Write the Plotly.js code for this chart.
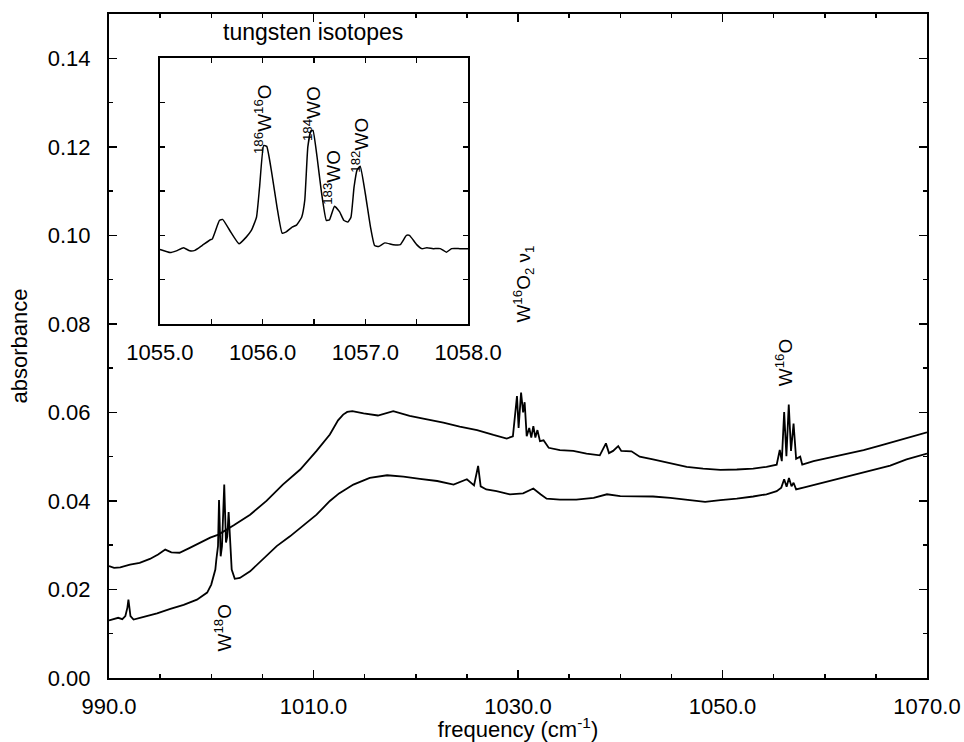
<!DOCTYPE html>
<html>
<head>
<meta charset="utf-8">
<script src="https://cdn.plot.ly/plotly-3.0.1.min.js"></script>
<style>html,body{margin:0;padding:0;background:#fff;}#chart{width:964px;height:742px;}</style>
</head>
<body>
<div id="chart"></div>
<script>
// Upper spectrum
const upperX = [990.0,990.5,991.1,992.05,993.0,994.0,994.8,995.5,996.1,996.9,997.9,998.9,999.9,1000.7,1001.3,1002.2,1003.8,1005.4,1007.0,1008.7,1010.3,1011.6,1012.4,1012.9,1013.3,1013.8,1014.9,1016.3,1017.8,1019.4,1021.1,1022.7,1024.3,1026.0,1027.6,1028.9,1029.5,1029.9,1030.06,1030.3,1030.5,1030.65,1030.85,1031.1,1031.3,1031.5,1031.7,1031.9,1032.15,1032.5,1033.0,1034.1,1035.4,1036.7,1038.0,1038.6,1038.9,1039.3,1039.8,1040.1,1041.1,1041.9,1043.2,1044.9,1046.5,1048.1,1049.8,1051.4,1053.0,1054.3,1055.3,1055.6,1055.8,1056.03,1056.25,1056.48,1056.7,1056.95,1057.2,1057.6,1057.8,1058.9,1060.5,1062.1,1063.8,1065.4,1067.0,1068.7,1070.0];
const upperY = [0.0253,0.0249,0.0250,0.0256,0.0260,0.0269,0.0279,0.0290,0.0284,0.0283,0.0294,0.0306,0.0317,0.0324,0.0332,0.0345,0.0369,0.0400,0.0437,0.0471,0.0513,0.0550,0.0582,0.0595,0.0601,0.0603,0.0598,0.0593,0.0603,0.0592,0.0584,0.0577,0.0568,0.0560,0.0549,0.0541,0.0546,0.0637,0.0565,0.0645,0.0600,0.0623,0.0546,0.0565,0.0543,0.0569,0.0543,0.0560,0.0535,0.0537,0.0520,0.0515,0.0513,0.0507,0.0503,0.0530,0.0508,0.0513,0.0524,0.0513,0.0512,0.0500,0.0494,0.0486,0.0477,0.0473,0.0470,0.0471,0.0473,0.0477,0.0482,0.0515,0.0490,0.0601,0.0501,0.0618,0.0513,0.0575,0.0495,0.0500,0.0482,0.0490,0.0498,0.0507,0.0515,0.0525,0.0535,0.0546,0.0555];

// Lower spectrum
const lowerX = [990.0,990.5,990.9,991.3,991.6,991.8,991.9,992.1,992.4,993.4,994.7,996.0,997.3,998.6,999.6,1000.0,1000.4,1000.5,1000.66,1000.76,1000.92,1001.05,1001.27,1001.44,1001.57,1001.7,1001.83,1002.0,1002.3,1002.8,1003.8,1005.1,1006.4,1007.7,1009.0,1010.3,1011.6,1012.5,1013.9,1015.5,1017.2,1018.8,1020.4,1022.1,1023.7,1025.0,1025.7,1026.1,1026.35,1026.9,1027.9,1029.2,1030.5,1031.5,1032.2,1032.8,1034.1,1035.7,1037.4,1038.7,1040.0,1041.6,1043.2,1044.9,1046.5,1048.3,1049.8,1051.4,1053.0,1054.3,1055.3,1055.75,1056.03,1056.27,1056.5,1056.75,1056.95,1057.2,1058.2,1059.9,1061.5,1063.1,1064.7,1066.4,1068.0,1070.0];
const lowerY = [0.0130,0.0134,0.0136,0.0133,0.0140,0.0159,0.0177,0.0140,0.0132,0.0138,0.0146,0.0156,0.0165,0.0177,0.0193,0.0211,0.0245,0.0268,0.0298,0.0402,0.0275,0.0298,0.0437,0.0306,0.0320,0.0375,0.0313,0.0245,0.0224,0.0226,0.0241,0.0269,0.0298,0.0320,0.0345,0.0369,0.0400,0.0417,0.0437,0.0452,0.0458,0.0455,0.0450,0.0445,0.0437,0.0449,0.0435,0.0479,0.0433,0.0426,0.0422,0.0415,0.0417,0.0428,0.0415,0.0405,0.0403,0.0403,0.0407,0.0415,0.0411,0.0411,0.0410,0.0407,0.0402,0.0398,0.0402,0.0405,0.0410,0.0415,0.0422,0.0430,0.0449,0.0432,0.0452,0.0433,0.0441,0.0426,0.0432,0.0442,0.0452,0.0460,0.0471,0.0480,0.0494,0.0507];

// Inset: tungsten isotopes
const insetX = [1055.0,1055.10,1055.16,1055.23,1055.29,1055.34,1055.41,1055.49,1055.51,1055.58,1055.61,1055.68,1055.77,1055.84,1055.89,1055.94,1055.97,1056.01,1056.04,1056.09,1056.14,1056.19,1056.23,1056.29,1056.33,1056.38,1056.41,1056.44,1056.47,1056.49,1056.53,1056.57,1056.62,1056.65,1056.70,1056.75,1056.79,1056.83,1056.86,1056.89,1056.92,1056.95,1057.00,1057.05,1057.09,1057.13,1057.19,1057.27,1057.34,1057.40,1057.43,1057.50,1057.55,1057.60,1057.66,1057.73,1057.79,1057.84,1057.92,1058.0];
const insetY = [0.0968,0.0961,0.0965,0.0972,0.0965,0.0966,0.0977,0.0990,0.0992,0.1034,0.1036,0.1011,0.0981,0.0996,0.1011,0.1041,0.1109,0.1203,0.1201,0.1139,0.1064,0.1005,0.1008,0.1019,0.1023,0.1041,0.1079,0.1200,0.1236,0.1237,0.1177,0.1102,0.1034,0.1035,0.1066,0.1053,0.1034,0.1030,0.1041,0.1109,0.1148,0.1156,0.1094,0.1019,0.0977,0.0975,0.0983,0.0979,0.0979,0.1000,0.1000,0.0979,0.0970,0.0972,0.0970,0.0970,0.0962,0.0970,0.0970,0.0970];

// Tick labels
const xTickVals = [990, 1010, 1030, 1050, 1070];
const xTickText = ['990.0', '1010.0', '1030.0', '1050.0', '1070.0'];
const yTickVals = [0, 0.02, 0.04, 0.06, 0.08, 0.10, 0.12, 0.14];
const yTickText = ['0.00', '0.02', '0.04', '0.06', '0.08', '0.10', '0.12', '0.14'];
const insetTickVals = [1055, 1056, 1057, 1058];
const insetTickText = ['1055.0', '1056.0', '1057.0', '1058.0'];
const insetYTickVals = [0.08, 0.09, 0.10, 0.11, 0.12, 0.13, 0.14];

// Peak labels
const mainLabels = [
  {text: 'W<sup>18</sup>O', x: 1001.15, y: 0.0114},
  {text: 'W<sup>16</sup>O', x: 1056.1, y: 0.0713},
  {text: 'W<sup>16</sup>O<sub>2</sub> ν<sub>1</sub>', x: 1030.5, y: 0.0889}
];
const insetLabels = [
  {text: '<sup>186</sup>W<sup>16</sup>O', x: 1056.01, y: 0.1262},
  {text: '<sup>184</sup>WO', x: 1056.48, y: 0.1276},
  {text: '<sup>183</sup>WO', x: 1056.68, y: 0.1131},
  {text: '<sup>182</sup>WO', x: 1056.95, y: 0.1203}
];

const FONT = 'Liberation Sans, Arial, Helvetica, sans-serif';

const traces = [
  {x: upperX, y: upperY, type: 'scatter', mode: 'lines', line: {color: '#000', width: 1.8}, xaxis: 'x', yaxis: 'y', showlegend: false},
  {x: lowerX, y: lowerY, type: 'scatter', mode: 'lines', line: {color: '#000', width: 1.8}, xaxis: 'x', yaxis: 'y', showlegend: false},
  {x: insetX, y: insetY, type: 'scatter', mode: 'lines', line: {color: '#000', width: 1.5, shape: 'spline', smoothing: 0.4}, xaxis: 'x2', yaxis: 'y2', showlegend: false}
];

const annotations = [];
mainLabels.forEach(l => annotations.push({
  text: l.text, x: l.x, y: l.y, xref: 'x', yref: 'y', showarrow: false,
  textangle: -90, xanchor: 'center', yanchor: 'middle', font: {family: FONT, size: 19, color: '#000'}
}));
insetLabels.forEach(l => annotations.push({
  text: l.text, x: l.x, y: l.y, xref: 'x2', yref: 'y2', showarrow: false,
  textangle: -90, xanchor: 'center', yanchor: 'middle', font: {family: FONT, size: 19, color: '#000'}
}));
annotations.push({
  text: 'tungsten isotopes', x: 1009.95, y: 0.1459, xref: 'x', yref: 'y', showarrow: false,
  xanchor: 'center', yanchor: 'middle', font: {family: FONT, size: 23, color: '#000'}
});

const layout = {
  width: 964, height: 742,
  margin: {l: 109, r: 37, t: 14, b: 63.5, pad: 0},
  paper_bgcolor: '#fff', plot_bgcolor: '#fff',
  font: {family: FONT, size: 22, color: '#000'},
  showlegend: false,
  xaxis: {
    range: [990, 1070], tickvals: xTickVals, ticktext: xTickText,
    ticks: 'inside', ticklen: 8, tickwidth: 1.5, tickcolor: '#000',
    minor: {dtick: 5, tick0: 990, ticks: 'inside', ticklen: 4, tickwidth: 1.5, tickcolor: '#000'},
    showline: true, linewidth: 2, linecolor: '#000', mirror: 'ticks',
    showgrid: false, zeroline: false, ticklabelstandoff: 8,
    title: {text: 'frequency (cm<sup>-1</sup>)', font: {family: FONT, size: 22}, standoff: 2}
  },
  yaxis: {
    range: [0, 0.15], tickvals: yTickVals, ticktext: yTickText,
    ticks: 'inside', ticklen: 8, tickwidth: 1.5, tickcolor: '#000',
    minor: {dtick: 0.01, tick0: 0, ticks: 'inside', ticklen: 4, tickwidth: 1.5, tickcolor: '#000'},
    showline: true, linewidth: 2, linecolor: '#000', mirror: 'ticks',
    showgrid: false, zeroline: false, ticklabelstandoff: 12,
    title: {text: 'absorbance', font: {family: FONT, size: 22}, standoff: 14}
  },
  xaxis2: {
    domain: [0.0623, 0.4389], anchor: 'y2', range: [1055, 1058],
    tickvals: insetTickVals, ticktext: insetTickText,
    ticks: 'inside', ticklen: 5, tickwidth: 1.5, tickcolor: '#000',
    minor: {dtick: 0.5, tick0: 1055, ticks: 'inside', ticklen: 5, tickwidth: 1.5, tickcolor: '#000'},
    showline: true, linewidth: 2, linecolor: '#000', mirror: 'ticks',
    showgrid: false, zeroline: false, ticklabelstandoff: 8
  },
  yaxis2: {
    domain: [0.5333, 0.9333], anchor: 'x2', range: [0.08, 0.14],
    tickvals: insetYTickVals, showticklabels: false,
    ticks: 'inside', ticklen: 5, tickwidth: 1.5, tickcolor: '#000',
    showline: true, linewidth: 2, linecolor: '#000', mirror: 'ticks',
    showgrid: false, zeroline: false
  },
  annotations: annotations
};

Plotly.newPlot('chart', traces, layout, {staticPlot: true, displayModeBar: false});
</script>
</body>
</html>
